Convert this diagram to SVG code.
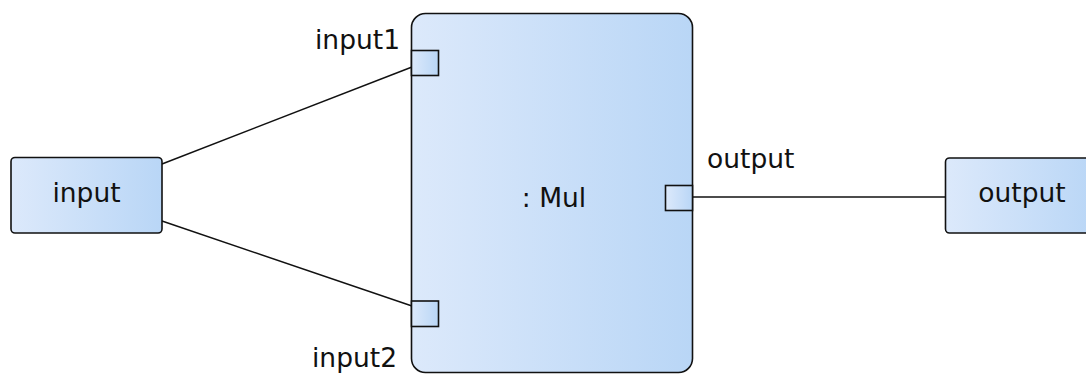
<svg xmlns="http://www.w3.org/2000/svg" width="1086" height="374" viewBox="0 0 1086 374">
  <defs>
    <linearGradient id="fillBlue" x1="0" y1="0" x2="1" y2="0">
      <stop offset="0" stop-color="#dce9fb"/>
      <stop offset="1" stop-color="#b9d6f6"/>
    </linearGradient>
  </defs>
  <style>
    .box { fill: url(#fillBlue); stroke: #111; stroke-width: 1.6; }
    .port { fill: url(#fillBlue); stroke: #111; stroke-width: 1.6; }
    .wire { fill: none; stroke: #111; stroke-width: 1.5; }
    .label { font-family: "DejaVu Sans", Verdana, sans-serif; font-size: 26.5px; fill: #111; }
  </style>

  <!-- connectors -->
  <g id="connectors">
    <line class="wire" x1="162" y1="164" x2="412" y2="67"/>
    <line class="wire" x1="162" y1="221" x2="412" y2="306"/>
    <line class="wire" x1="692" y1="197" x2="945" y2="197"/>
  </g>

  <!-- input node -->
  <g id="input">
    <rect class="box" x="11" y="157.5" width="151" height="75.5" rx="4"/>
    <text class="label" x="86.5" y="202" text-anchor="middle">input</text>
  </g>

  <!-- Mul block with its ports -->
  <g id="mul">
    <rect class="box" x="411.5" y="13.5" width="281" height="359" rx="14"/>
    <text class="label" x="554" y="207" text-anchor="middle">: Mul</text>
    <g id="port-input1">
      <rect class="port" x="411.5" y="50.5" width="27" height="25"/>
      <text class="label" x="315" y="49">input1</text>
    </g>
    <g id="port-input2">
      <rect class="port" x="411.5" y="301" width="27" height="25.5"/>
      <text class="label" x="312" y="367">input2</text>
    </g>
    <g id="port-output">
      <rect class="port" x="665.5" y="185.5" width="27" height="25"/>
      <text class="label" x="707" y="168">output</text>
    </g>
  </g>

  <!-- output node -->
  <g id="output">
    <rect class="box" x="945.5" y="158" width="151" height="75" rx="4"/>
    <text class="label" x="1022" y="202" text-anchor="middle">output</text>
  </g>
</svg>
